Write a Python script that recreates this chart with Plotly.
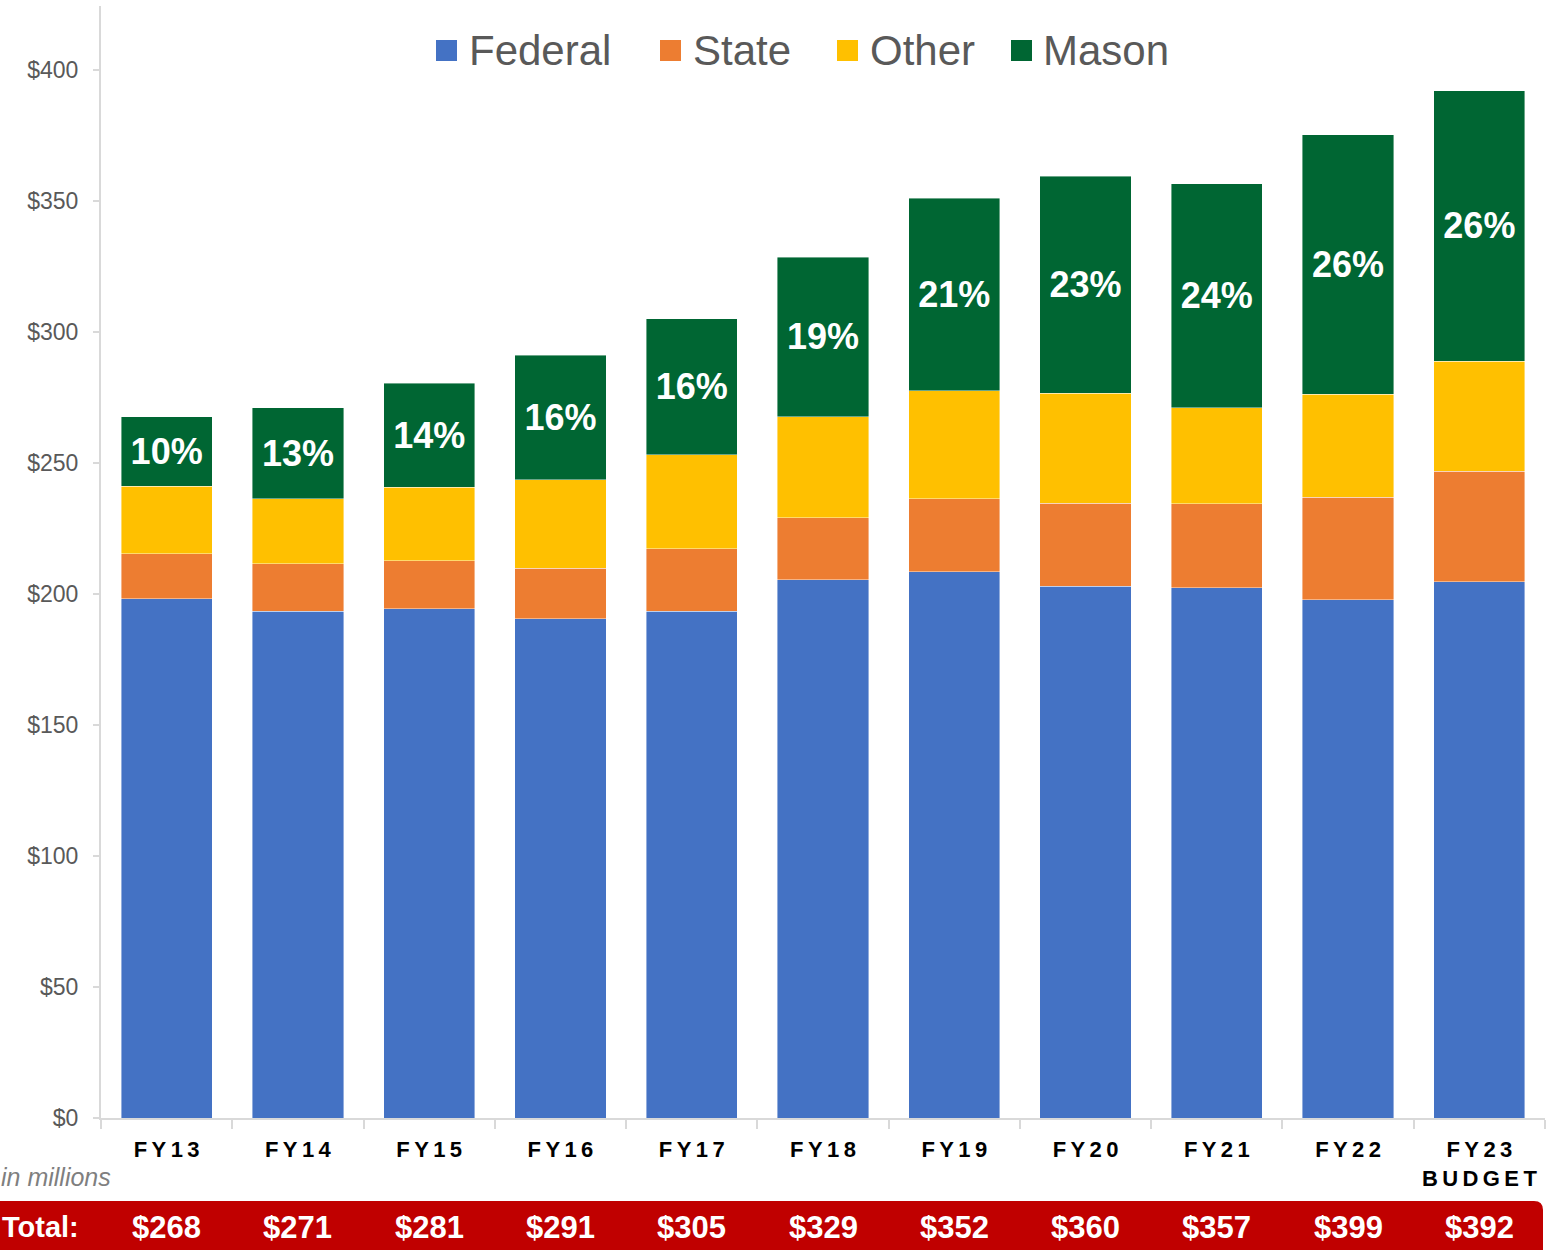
import plotly.graph_objects as go

# ---- data (millions of dollars) ----
years = ["FY13", "FY14", "FY15", "FY16", "FY17", "FY18", "FY19", "FY20", "FY21", "FY22", "FY23 BUDGET"]
tick_text = ["F\u2009Y\u20091\u20093", "F\u2009Y\u20091\u20094", "F\u2009Y\u20091\u20095", "F\u2009Y\u20091\u20096",
             "F\u2009Y\u20091\u20097", "F\u2009Y\u20091\u20098", "F\u2009Y\u20091\u20099", "F\u2009Y\u20092\u20090",
             "F\u2009Y\u20092\u20091", "F\u2009Y\u20092\u20092",
             "F\u2009Y\u20092\u20093<br>B\u2009U\u2009D\u2009G\u2009E\u2009T"]
federal = [198.2, 193.5, 194.3, 190.5, 193.5, 205.5, 208.5, 203.0, 202.3, 197.7, 204.6]
state = [17.1, 18.0, 18.3, 19.4, 23.7, 23.5, 27.8, 31.7, 32.1, 39.3, 42.3]
other = [25.9, 24.8, 28.2, 33.6, 35.9, 38.6, 41.2, 42.0, 36.6, 39.3, 42.0]
mason = [26.4, 34.7, 39.7, 47.7, 51.9, 61.0, 73.6, 82.8, 85.5, 98.9, 103.1]
mason_pct = ["10%", "13%", "14%", "16%", "16%", "19%", "21%", "23%", "24%", "26%", "26%"]
totals = ["$268", "$271", "$281", "$291", "$305", "$329", "$352", "$360", "$357", "$399", "$392"]

series_names = ["Federal", "State", "Other", "Mason"]
colors = ["#4472C4", "#ED7D31", "#FFC000", "#006633"]

FONT = "Liberation Sans, Arial, sans-serif"

W, H = 1551, 1250
ML, MR, MT, MB = 101, 6, 6, 132
PW = W - ML - MR
PH = H - MT - MB


def px_x(px):
    return (px - ML) / PW


def px_y(py):
    return (H - MB - py) / PH


fig = go.Figure()
for name, vals, col in zip(series_names, [federal, state, other, mason], colors):
    kw = {}
    if name == "Mason":
        kw = dict(text=mason_pct, textposition="inside", insidetextanchor="middle",
                  textfont=dict(family=FONT, size=36, color="white", weight="bold"),
                  constraintext="none")
    fig.add_trace(go.Bar(x=years, y=vals, name=name,
                         marker=dict(color=col, line=dict(width=0.6, color="rgba(255,255,255,0.7)")),
                         showlegend=False, hoverinfo="skip", **kw))

shapes = []
annotations = []

# manual legend
legend_sq = [436, 660, 837, 1011]
legend_tx = [467, 691, 868, 1041]
for name, col, sx, tx in zip(series_names, colors, legend_sq, legend_tx):
    shapes.append(dict(type="rect", xref="paper", yref="paper",
                       x0=px_x(sx), x1=px_x(sx + 21), y0=px_y(61), y1=px_y(40),
                       fillcolor=col, line=dict(width=0)))
    annotations.append(dict(xref="paper", yref="paper", x=px_x(tx), y=px_y(51),
                            text=name, showarrow=False, xanchor="left", yanchor="middle",
                            font=dict(family=FONT, size=42, color="#595959")))

# red total banner with rounded right corners
x0, x1 = px_x(-20), px_x(1543)
y_top, y_bot = px_y(1201), px_y(1270)
rx, ry = 9 / PW, 9 / PH
path = (f"M {x0},{y_top} L {x1 - rx},{y_top} Q {x1},{y_top} {x1},{y_top - ry} "
        f"L {x1},{y_bot} L {x0},{y_bot} Z")
shapes.append(dict(type="path", xref="paper", yref="paper", path=path,
                   fillcolor="#C00000", line=dict(width=0)))

annotations.append(dict(xref="paper", yref="paper", x=px_x(0), y=px_y(1227),
                        text="<b>Total:</b>", showarrow=False, xanchor="left", yanchor="middle",
                        font=dict(family=FONT, size=29, color="white")))
for yr, t in zip(years, totals):
    annotations.append(dict(xref="x", yref="paper", x=yr, y=px_y(1227),
                            text=f"<b>{t}</b>", showarrow=False, xanchor="center", yanchor="middle",
                            font=dict(family=FONT, size=31, color="white")))

annotations.append(dict(xref="paper", yref="paper", x=px_x(113), y=px_y(1177),
                        text="<i>in millions</i>", showarrow=False, xanchor="right", yanchor="middle",
                        font=dict(family=FONT, size=25, color="#7F7F7F")))

fig.update_layout(
    width=W, height=H,
    margin=dict(l=ML, r=MR, t=MT, b=MB, pad=0),
    barmode="stack", bargap=0.305,
    plot_bgcolor="white", paper_bgcolor="white",
    font=dict(family=FONT),
    shapes=shapes, annotations=annotations,
    xaxis=dict(tickmode="array", tickvals=years, ticktext=tick_text,
               tickfont=dict(family=FONT, size=22, color="black", weight="bold"),
               showline=True, linecolor="#D9D9D9", linewidth=2,
               ticks="outside", tickson="boundaries", ticklen=9, tickcolor="#D9D9D9", tickwidth=2,
               ticklabelstandoff=11, showgrid=False, fixedrange=True),
    yaxis=dict(range=[0, 424.4], tickmode="linear", tick0=0, dtick=50, tickprefix="$",
               tickfont=dict(family=FONT, size=23, color="#595959"),
               showline=True, linecolor="#D9D9D9", linewidth=2,
               ticks="outside", ticklen=6, tickcolor="#D9D9D9", tickwidth=2,
               ticklabelstandoff=10, showgrid=False, zeroline=False, fixedrange=True),
)

fig.write_html("out.html", config={"displayModeBar": False},
               post_script="document.body.style.margin='0';document.body.style.overflow='hidden';")
